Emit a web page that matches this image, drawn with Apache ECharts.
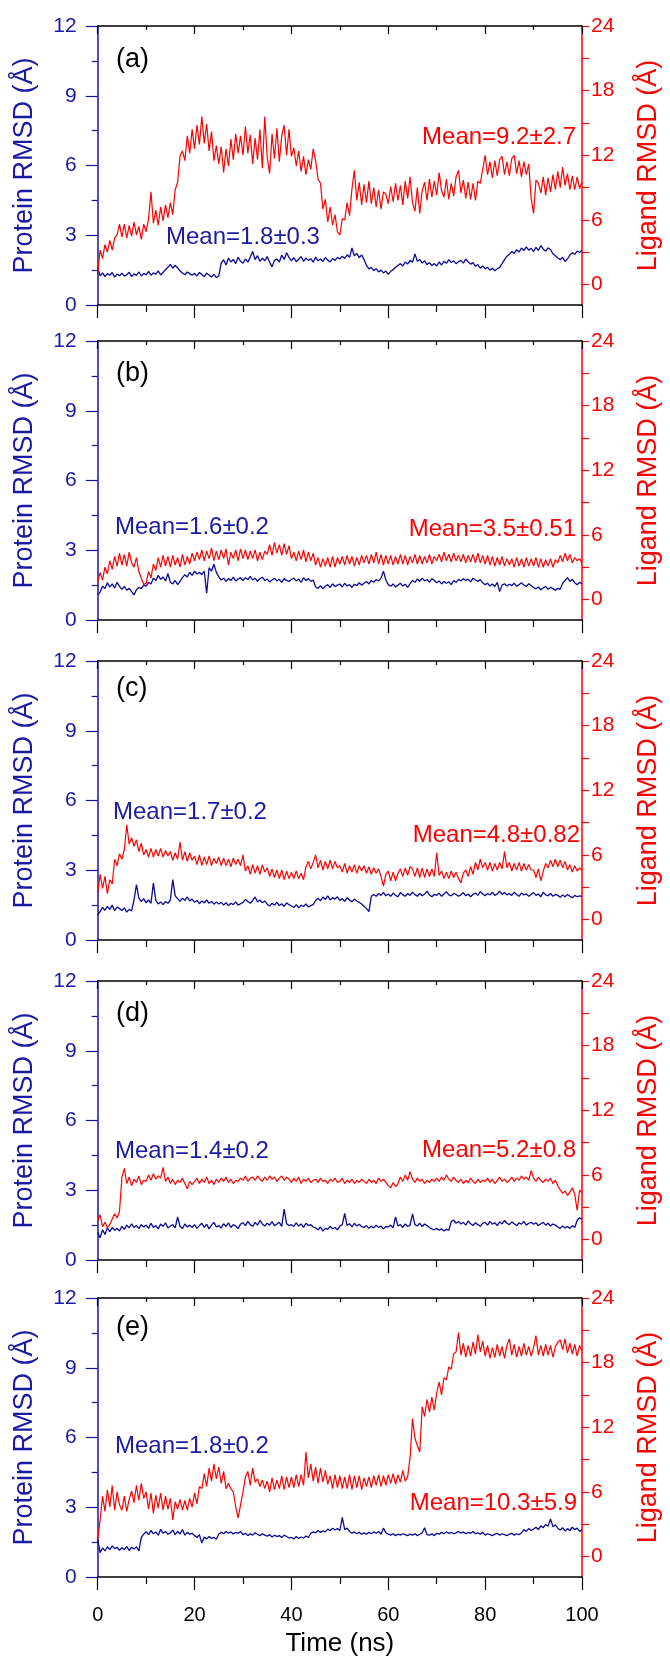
<!DOCTYPE html>
<html>
<head>
<meta charset="utf-8">
<script src="https://cdn.jsdelivr.net/npm/echarts@6/dist/echarts.min.js"></script>
<style>
  html, body { margin: 0; padding: 0; background: #ffffff; }
  #chart { width: 670px; height: 1659px; }
</style>
</head>
<body>
<div id="chart"></div>
<script>
// Sampling interval of the RMSD traces (ns); every trace runs 0–100 ns.
const timeStepNs = 0.5;

// Protein backbone RMSD (Å), systems (a)–(e)
const proteinA = [
  1.60,1.25,1.38,1.22,1.35,1.28,1.40,1.20,1.33,1.26,
  1.37,1.24,1.30,1.41,1.22,1.34,1.27,1.42,1.25,1.36,
  1.30,1.45,1.28,1.38,1.33,1.47,1.29,1.40,1.52,1.62,
  1.75,1.58,1.70,1.60,1.46,1.38,1.30,1.42,1.35,1.28,
  1.36,1.25,1.40,1.31,1.22,1.37,1.29,1.20,1.32,1.18,
  1.25,1.80,1.95,1.72,2.02,1.85,1.96,1.78,2.05,1.88,
  1.80,1.98,1.84,2.06,2.30,1.95,2.12,1.88,2.02,1.90,
  2.08,1.85,1.64,1.92,1.98,1.84,2.15,1.96,2.25,2.05,
  1.90,2.04,1.86,1.97,2.08,1.88,2.02,1.92,1.99,1.84,
  2.06,1.90,1.98,1.87,2.04,1.93,1.85,2.00,1.92,2.05,
  1.98,2.10,2.00,2.16,2.05,2.45,2.12,2.22,2.04,2.15,
  1.95,1.70,1.55,1.62,1.48,1.56,1.42,1.50,1.38,1.46,
  1.32,1.45,1.52,1.62,1.70,1.78,1.68,1.85,1.76,1.92,
  1.84,2.20,1.88,1.96,1.80,1.90,1.74,1.82,1.70,1.78,
  1.68,1.85,1.72,1.88,1.79,1.95,1.83,1.90,1.78,1.86,
  1.92,1.80,1.98,1.85,1.76,1.82,1.66,1.74,1.58,1.68,
  1.55,1.62,1.50,1.58,1.47,1.56,1.62,1.78,1.95,2.10,
  2.18,2.30,2.22,2.38,2.28,2.45,2.34,2.50,2.36,2.44,
  2.30,2.48,2.35,2.55,2.40,2.32,2.46,2.38,2.20,2.12,
  2.02,1.95,2.05,1.88,1.98,2.15,2.25,2.18,2.32,2.26,
  2.35
];
const proteinB = [
  1.08,1.20,1.45,1.35,1.60,1.42,1.55,1.38,1.62,1.45,
  1.32,1.44,1.28,1.36,1.22,1.08,1.30,1.40,1.35,1.50,
  1.45,1.62,1.55,1.80,1.70,1.92,1.75,1.85,1.68,2.00,
  1.62,1.55,1.70,1.52,1.66,1.82,1.95,1.85,2.05,1.92,
  2.10,1.98,2.05,1.95,2.10,1.15,2.25,2.10,2.40,2.05,
  1.85,1.72,1.80,1.66,1.78,1.70,1.84,1.68,1.76,1.82,
  1.70,1.82,1.74,1.88,1.72,1.80,1.66,1.78,1.84,1.70,
  1.76,1.64,1.72,1.80,1.68,1.75,1.62,1.78,1.70,1.66,
  1.74,1.80,1.68,1.76,1.62,1.82,1.70,1.78,1.66,1.72,
  1.42,1.36,1.48,1.34,1.45,1.52,1.40,1.56,1.44,1.50,
  1.55,1.42,1.58,1.46,1.52,1.40,1.54,1.48,1.60,1.50,
  1.58,1.66,1.55,1.70,1.62,1.74,1.68,1.80,2.10,1.72,
  1.52,1.45,1.55,1.42,1.50,1.58,1.46,1.54,1.40,1.56,
  1.70,1.62,1.76,1.66,1.80,1.68,1.74,1.62,1.78,1.70,
  1.60,1.68,1.55,1.66,1.58,1.64,1.52,1.70,1.62,1.75,
  1.68,1.78,1.70,1.76,1.64,1.80,1.72,1.66,1.74,1.60,
  1.52,1.58,1.46,1.55,1.44,1.62,1.22,1.50,1.56,1.46,
  1.54,1.48,1.58,1.45,1.52,1.60,1.50,1.44,1.56,1.48,
  1.40,1.34,1.42,1.30,1.38,1.44,1.32,1.40,1.35,1.28,
  1.36,1.32,1.58,1.70,1.82,1.66,1.75,1.60,1.52,1.62,
  1.55
];
const proteinC = [
  1.08,1.22,1.40,1.28,1.45,1.32,1.50,1.26,1.42,1.35,
  1.27,1.38,1.20,1.32,1.25,1.72,2.38,1.80,1.65,1.78,
  1.60,1.72,1.58,2.45,1.70,1.55,1.64,1.52,1.66,1.58,
  1.72,2.60,1.90,1.78,1.66,1.80,1.70,1.85,1.68,1.76,
  1.62,1.70,1.56,1.68,1.60,1.72,1.58,1.66,1.54,1.64,
  1.55,1.62,1.50,1.60,1.48,1.58,1.52,1.64,1.50,1.56,
  1.62,1.75,1.66,1.58,1.70,1.85,1.64,1.72,1.60,1.68,
  1.54,1.46,1.58,1.50,1.62,1.48,1.56,1.44,1.60,1.52,
  1.46,1.40,1.52,1.38,1.50,1.44,1.55,1.42,1.48,1.52,
  1.70,1.80,1.68,1.85,1.74,1.90,1.72,1.82,1.76,1.86,
  1.70,1.78,1.66,1.82,1.72,1.64,1.76,1.68,1.62,1.55,
  1.45,1.35,1.22,1.88,1.96,1.88,2.00,1.92,2.05,1.90,
  1.98,1.88,2.02,1.92,1.86,2.04,1.94,1.88,2.00,1.92,
  2.06,1.95,1.88,2.00,1.90,1.98,2.10,1.94,1.86,1.96,
  1.92,2.02,1.88,1.98,2.08,1.94,1.90,2.00,1.96,1.88,
  1.94,2.04,1.90,1.98,1.86,1.96,2.02,1.92,2.08,1.98,
  1.90,2.00,1.94,2.06,1.92,1.98,2.10,1.96,2.04,1.94,
  2.00,1.92,2.06,1.96,1.88,2.02,1.94,1.98,1.88,1.96,
  2.04,1.92,1.98,1.86,2.06,1.94,1.90,2.00,1.88,1.96,
  1.92,1.84,1.94,1.86,1.96,1.88,1.82,1.92,1.86,1.90,
  1.88
];
const proteinD = [
  1.20,0.95,1.30,1.10,1.38,1.22,1.40,1.28,1.36,1.25,
  1.45,1.32,1.50,1.38,1.55,1.40,1.48,1.35,1.52,1.42,
  1.50,1.36,1.58,1.40,1.48,1.34,1.55,1.44,1.60,1.38,
  1.46,1.52,1.38,1.85,1.44,1.36,1.55,1.42,1.50,1.40,
  1.52,1.36,1.48,1.58,1.40,1.54,1.34,1.50,1.62,1.42,
  1.48,1.38,1.56,1.44,1.60,1.40,1.52,1.46,1.35,1.55,
  1.60,1.48,1.66,1.52,1.45,1.62,1.50,1.70,1.55,1.46,
  1.58,1.50,1.65,1.48,1.55,1.62,1.45,2.19,1.56,1.48,
  1.52,1.44,1.60,1.46,1.55,1.40,1.58,1.48,1.52,1.42,
  1.38,1.30,1.42,1.24,1.36,1.32,1.45,1.34,1.40,1.30,
  1.46,1.52,2.00,1.48,1.56,1.42,1.58,1.46,1.54,1.44,
  1.40,1.48,1.36,1.45,1.38,1.50,1.40,1.46,1.34,1.44,
  1.42,1.50,1.38,1.85,1.46,1.52,1.40,1.55,1.44,1.50,
  1.98,1.52,1.46,1.58,1.44,1.55,1.48,1.40,1.34,1.30,
  1.36,1.28,1.34,1.25,1.32,1.28,1.65,1.72,1.58,1.66,
  1.55,1.62,1.50,1.68,1.56,1.48,1.60,1.52,1.45,1.58,
  1.62,1.50,1.66,1.54,1.60,1.48,1.64,1.55,1.70,1.58,
  1.52,1.64,1.56,1.48,1.60,1.54,1.66,1.50,1.58,1.62,
  1.54,1.60,1.48,1.56,1.62,1.50,1.58,1.46,1.55,1.50,
  1.42,1.36,1.46,1.38,1.44,1.35,1.48,1.40,1.70,1.82,
  1.75
];
const proteinE = [
  1.60,1.05,1.25,1.12,1.30,1.18,1.34,1.22,1.28,1.15,
  1.26,1.18,1.32,1.14,1.28,1.20,1.30,1.12,1.70,1.84,
  1.95,1.82,2.00,1.86,1.94,1.80,2.05,1.88,1.96,1.84,
  1.90,2.02,1.82,1.96,1.85,2.04,1.80,1.92,1.84,1.88,
  1.78,1.70,1.82,1.46,1.72,1.64,1.74,1.66,1.70,1.62,
  1.85,1.92,1.86,1.96,1.88,1.94,1.85,1.92,1.88,1.95,
  1.82,1.88,1.78,1.86,1.80,1.90,1.84,1.78,1.86,1.80,
  1.76,1.82,1.72,1.80,1.74,1.78,1.70,1.80,1.74,1.68,
  1.70,1.64,1.74,1.66,1.72,1.68,1.76,1.70,1.88,1.94,
  1.90,2.00,1.92,1.98,1.94,2.06,2.00,2.10,2.02,2.08,
  2.00,2.56,2.04,2.10,1.96,1.88,1.94,1.86,1.92,1.84,
  1.90,1.84,1.92,1.86,1.94,1.88,1.96,1.84,2.10,1.90,
  1.84,1.80,1.86,1.78,1.84,1.80,1.86,1.82,1.78,1.84,
  1.80,1.86,1.78,1.84,1.90,2.12,1.82,1.80,1.86,1.78,
  1.88,1.84,1.92,1.86,1.94,1.88,1.92,1.86,1.90,1.96,
  1.88,1.94,1.86,1.92,1.88,1.96,1.86,1.90,1.84,1.92,
  1.80,1.86,1.82,1.78,1.84,1.88,1.80,1.86,1.82,1.78,
  1.84,1.88,1.80,1.86,1.82,1.90,2.04,1.96,2.08,2.00,
  2.06,2.14,2.04,2.20,2.12,2.26,2.18,2.50,2.16,2.24,
  2.10,2.02,2.12,1.98,2.08,2.00,2.14,2.04,2.10,1.96,
  2.04
];

// Ligand heavy-atom RMSD (Å), systems (a)–(e)
const ligandA = [
  1.0,3.2,2.4,3.7,3.0,4.1,3.2,4.3,4.6,5.6,
  4.4,5.6,4.3,5.5,4.5,5.8,4.6,5.4,4.2,5.6,
  4.9,6.1,8.6,5.7,6.9,5.5,7.2,5.9,7.4,6.2,
  7.6,6.5,8.8,9.5,11.9,12.4,11.5,13.8,12.2,14.4,
  12.6,14.8,13.0,15.6,13.1,14.9,12.4,14.2,11.5,12.9,
  11.2,12.8,10.4,12.6,11.0,13.5,11.6,14.0,12.2,13.8,
  12.0,14.7,12.2,13.9,11.2,13.6,11.6,14.4,10.8,15.6,
  11.8,10.3,14.0,11.7,14.5,11.4,13.8,14.8,12.0,14.4,
  11.9,12.7,11.0,12.4,10.5,11.9,10.2,11.6,10.7,12.6,
  11.5,9.8,9.4,7.0,7.9,5.8,7.2,5.5,6.5,4.9,
  4.6,6.1,6.0,7.6,6.4,8.9,10.6,7.8,9.5,7.4,
  9.3,7.6,9.6,7.5,9.0,7.2,8.8,7.0,8.6,8.4,
  7.5,9.1,7.7,9.4,7.8,9.2,7.4,9.6,8.0,10.0,
  7.6,6.8,9.0,6.6,8.7,9.5,7.8,9.8,8.1,9.6,
  8.3,10.4,8.7,8.1,9.8,7.9,9.4,8.2,10.0,10.6,
  8.5,9.7,8.0,9.5,7.9,9.4,7.8,9.6,9.4,10.7,
  12.0,10.2,11.4,9.9,11.5,10.1,11.6,11.9,10.2,11.4,
  10.1,11.7,12.0,10.3,11.5,10.0,11.4,10.2,11.2,8.0,
  6.6,9.7,9.4,8.5,10.0,8.3,9.9,8.6,10.2,8.8,
  10.5,9.0,10.9,9.2,10.3,8.8,10.1,8.8,10.0,8.9,
  9.5
];
const ligandB = [
  1.6,2.5,1.8,3.0,2.4,3.6,2.8,4.0,3.1,4.3,
  3.2,4.2,3.1,4.4,3.4,3.0,3.9,2.6,2.0,1.4,
  1.5,2.6,2.0,3.3,2.7,3.9,3.0,4.1,3.1,4.0,
  3.0,4.1,3.2,3.9,3.0,4.2,3.2,4.0,3.3,4.3,
  3.6,4.4,3.7,4.6,3.6,4.5,3.8,4.8,3.6,4.5,
  3.7,4.6,3.8,4.7,3.2,4.4,3.8,4.6,3.6,4.7,
  3.8,4.6,3.7,4.5,3.8,4.6,3.6,4.4,3.7,4.5,
  4.2,5.1,4.1,5.3,4.3,5.1,4.1,5.2,4.2,5.0,
  3.8,4.4,3.6,4.5,3.7,4.6,3.5,4.4,3.6,4.3,
  3.2,3.9,3.0,3.8,3.1,3.9,3.0,4.0,3.0,3.9,
  3.3,4.0,3.2,4.1,3.3,4.0,3.1,3.9,3.2,4.1,
  3.4,4.1,3.3,4.2,3.4,4.4,3.3,4.2,3.2,4.1,
  3.3,4.1,3.2,4.0,3.3,4.2,3.3,4.1,3.2,4.0,
  3.4,4.2,3.3,4.1,3.3,4.0,3.4,4.2,3.3,4.0,
  3.6,4.2,3.5,4.4,3.6,4.2,3.5,4.3,3.6,4.1,
  3.5,4.2,3.4,4.1,3.5,4.2,3.4,4.3,3.4,4.1,
  3.3,4.1,3.2,4.0,3.1,3.9,3.2,4.0,3.1,3.8,
  3.2,3.8,3.0,3.9,3.1,3.8,3.0,3.9,3.1,3.8,
  3.1,3.9,3.0,3.8,3.0,3.7,3.1,3.8,3.0,3.7,
  3.4,4.1,3.5,4.3,3.6,4.2,3.4,3.9,3.6,3.8,
  3.4
];
const ligandC = [
  2.5,4.2,2.9,4.0,2.4,3.7,3.3,5.6,5.0,6.1,
  5.6,6.5,8.8,7.0,7.6,6.8,7.4,6.3,7.1,6.0,
  6.5,5.8,6.6,5.8,6.5,5.9,6.6,5.8,6.4,5.9,
  6.3,5.5,6.2,5.6,7.2,5.5,6.3,5.4,6.2,5.5,
  5.9,5.1,6.0,5.0,5.8,5.1,5.9,5.0,5.7,5.2,
  5.8,5.0,5.7,5.0,5.6,4.9,5.7,5.1,5.6,5.0,
  6.0,4.5,5.0,4.2,5.1,4.3,5.0,4.2,5.1,4.4,
  4.8,4.0,4.7,3.9,4.6,3.8,4.6,3.7,4.5,3.8,
  4.4,3.8,4.5,3.8,4.3,3.7,4.9,5.4,4.7,5.3,
  6.0,4.8,5.5,4.6,5.4,4.7,5.5,4.7,5.4,4.8,
  5.0,4.4,5.2,4.3,5.0,4.4,5.1,4.3,5.0,4.5,
  5.0,4.3,4.9,4.2,4.8,4.3,4.7,4.0,3.1,4.2,
  4.5,3.6,4.4,3.6,4.3,4.7,4.0,4.8,4.1,4.9,
  4.7,4.0,4.8,3.9,4.8,3.9,4.7,4.0,4.7,4.0,
  6.2,4.1,4.5,3.8,4.4,3.8,4.5,3.9,4.4,3.8,
  3.4,4.3,4.6,4.0,4.9,4.2,5.3,4.6,5.6,4.8,
  5.3,4.6,5.3,4.5,5.2,4.6,5.3,4.7,6.3,4.8,
  5.3,4.5,5.2,4.6,5.3,4.5,5.2,4.6,5.1,4.6,
  4.6,3.9,4.7,3.6,4.5,5.2,4.8,5.5,4.9,5.6,
  4.9,5.5,4.8,5.4,4.6,5.1,4.4,5.0,4.5,4.8,
  4.6
];
const ligandD = [
  1.7,2.3,1.2,1.6,1.1,1.4,1.9,2.4,2.0,2.6,
  5.8,6.6,5.2,5.8,5.0,5.6,5.3,5.9,5.1,5.5,
  5.4,6.0,5.5,6.1,5.6,5.9,5.7,6.7,5.4,5.8,
  5.2,5.6,5.1,5.5,5.3,5.7,5.2,4.7,5.4,5.1,
  5.4,5.7,5.2,5.6,5.3,5.8,5.2,5.5,5.1,5.6,
  5.3,5.7,5.4,5.8,5.3,5.6,5.2,5.5,5.4,5.7,
  5.5,5.9,5.4,5.7,5.8,5.5,5.9,5.6,5.4,5.8,
  5.5,5.9,5.6,5.8,5.4,5.7,5.9,5.5,5.8,5.6,
  5.3,5.7,5.4,5.8,5.2,5.6,5.4,5.7,5.3,5.5,
  5.6,5.3,5.7,5.4,5.5,5.2,5.6,5.4,5.7,5.3,
  5.4,5.7,5.2,5.5,5.3,5.6,5.2,5.5,5.3,5.6,
  5.4,5.2,5.6,5.3,5.5,5.2,5.7,5.4,5.6,5.3,
  5.0,4.8,5.3,4.9,5.2,5.8,5.4,6.0,5.5,6.3,
  5.6,5.3,5.7,5.4,5.6,5.2,5.5,5.3,5.6,5.4,
  5.7,5.4,5.8,5.5,6.0,5.6,5.4,5.8,5.5,5.3,
  5.6,5.2,5.5,5.3,5.7,5.4,5.2,5.6,5.3,5.5,
  5.4,5.7,5.3,5.6,5.2,5.5,5.8,5.4,5.6,5.3,
  5.5,5.8,5.4,5.7,5.5,5.9,5.6,5.8,5.5,6.4,
  5.7,5.4,5.8,5.5,5.3,5.6,5.4,5.7,5.2,5.5,
  5.0,4.6,4.3,4.5,4.1,4.4,4.8,4.2,2.7,4.6,
  4.3
];
const ligandE = [
  1.5,3.4,5.6,4.2,6.2,4.6,6.6,4.3,6.0,4.8,
  4.3,5.6,4.2,5.3,6.1,5.0,6.6,5.2,6.8,5.4,
  6.0,4.4,5.9,4.0,5.7,4.5,5.9,4.3,5.6,4.4,
  5.4,3.4,5.1,4.4,5.3,4.3,5.2,4.3,5.4,4.6,
  5.9,4.9,6.5,6.3,7.7,6.5,8.2,7.0,8.6,7.2,
  8.3,6.8,7.9,6.3,6.8,6.3,6.0,4.6,3.6,4.8,
  6.0,7.4,7.9,6.6,8.2,6.9,7.2,6.5,7.1,6.3,
  7.0,6.0,7.3,6.2,7.1,6.3,7.5,6.2,7.4,6.4,
  7.4,6.4,7.6,6.5,7.6,6.6,9.7,7.3,8.6,7.0,
  8.3,6.8,8.2,6.9,8.0,6.7,7.5,6.3,7.6,6.4,
  7.5,6.3,7.4,6.3,7.6,6.2,7.5,6.4,7.5,6.2,
  7.3,6.5,7.4,6.4,7.5,6.6,7.6,6.5,7.5,6.6,
  7.6,6.8,7.7,6.7,7.6,6.9,8.0,7.0,7.4,9.2,
  12.8,11.0,10.3,9.7,13.9,13.0,14.6,13.4,14.8,13.6,
  15.2,16.2,15.0,16.6,16.4,17.6,17.4,18.8,19.0,20.8,
  18.7,19.8,18.5,19.6,18.6,19.9,18.8,20.6,19.0,20.0,
  18.6,19.6,18.4,19.4,18.5,19.7,18.6,19.5,18.4,19.6,
  20.2,18.7,19.7,18.5,19.5,18.6,19.8,18.7,19.5,18.6,
  19.4,20.5,18.7,19.6,18.6,19.7,18.7,19.6,18.5,19.5,
  19.9,20.1,19.2,20.2,18.9,19.8,18.8,19.7,18.6,19.6,
  19.1
];

// Axis ticks
const timeTicks = [0, 20, 40, 60, 80, 100];
const proteinTicks = [0, 3, 6, 9, 12];
const ligandTicks = [0, 6, 12, 18, 24];
const ligandMinorTicks = [3, 9, 15, 21];

// Panel annotations
const panelLetters = ['(a)', '(b)', '(c)', '(d)', '(e)'];
const proteinMeans = ['Mean=1.8±0.3', 'Mean=1.6±0.2', 'Mean=1.7±0.2', 'Mean=1.4±0.2', 'Mean=1.8±0.2'];
const ligandMeans = ['Mean=9.2±2.7', 'Mean=3.5±0.51', 'Mean=4.8±0.82', 'Mean=5.2±0.8', 'Mean=10.3±5.9'];

const proteinSets = [proteinA, proteinB, proteinC, proteinD, proteinE];
const ligandSets = [ligandA, ligandB, ligandC, ligandD, ligandE];

// ---- layout & styling ----
const FONT = "'Liberation Sans', Arial, Helvetica, sans-serif";
const BLUE_LINE = '#0a0a98';
const BLUE_AXIS = '#1414a8';
const BLUE_TEXT = '#1a1aa2';
const RED = '#ff0000';
const panelTops = [26, 341, 661, 981, 1298];
const PANEL_H = 279;
const PLOT_LEFT = 97.7;
const PLOT_RIGHT = 670 - 588.2;
// label placement per panel: [letterY, proteinMeanX, proteinMeanY, ligandMeanRightX, ligandMeanY]
const annot = [
  [60, 166, 237, 576, 137.5],
  [374, 115, 527, 576, 529],
  [689, 113, 812, 580, 835],
  [1014, 115, 1151, 576, 1150],
  [1328, 115, 1446.5, 577, 1503]
];

const grids = [], xAxes = [], yAxes = [], series = [], graphics = [];
const toPairs = arr => arr.map((v, k) => [k * timeStepNs, v]);

for (let i = 0; i < 5; i++) {
  const last = i === 4;
  grids.push({ left: PLOT_LEFT, right: PLOT_RIGHT, top: panelTops[i], height: PANEL_H });

  // bottom time axis
  xAxes.push({
    type: 'value', gridIndex: i, position: 'bottom',
    min: timeTicks[0], max: timeTicks[timeTicks.length - 1], interval: timeTicks[1] - timeTicks[0],
    axisLine: { show: true, onZero: false, lineStyle: { color: '#000', width: 1.5 } },
    axisTick: { show: true, inside: false, length: 13, lineStyle: { color: '#000', width: 1.2 } },
    minorTick: { show: true, splitNumber: 2, length: 7, lineStyle: { color: '#000', width: 1.2 } },
    splitLine: { show: false }, minorSplitLine: { show: false },
    axisLabel: { show: last, margin: 28, fontSize: 20, color: '#000', fontFamily: FONT },
    name: last ? 'Time (ns)' : '', nameLocation: 'middle', nameGap: 54,
    nameTextStyle: { fontSize: 26, color: '#000', fontFamily: FONT }
  });
  // top frame axis
  xAxes.push({
    type: 'value', gridIndex: i, position: 'top',
    min: timeTicks[0], max: timeTicks[timeTicks.length - 1], interval: timeTicks[1] - timeTicks[0],
    axisLine: { show: true, onZero: false, lineStyle: { color: '#000', width: 1.5 } },
    axisTick: { show: true, inside: true, length: 8, lineStyle: { color: '#000', width: 1.2 } },
    minorTick: { show: true, splitNumber: 2, length: 4, lineStyle: { color: '#000', width: 1.2 } },
    splitLine: { show: false }, minorSplitLine: { show: false },
    axisLabel: { show: false }
  });

  // left: protein RMSD
  yAxes.push({
    type: 'value', gridIndex: i, position: 'left',
    min: proteinTicks[0], max: proteinTicks[proteinTicks.length - 1], interval: proteinTicks[1] - proteinTicks[0],
    axisLine: { show: true, onZero: false, lineStyle: { color: BLUE_AXIS, width: 1.5 } },
    axisTick: { show: true, inside: false, length: 12, lineStyle: { color: BLUE_AXIS, width: 1.2 } },
    minorTick: { show: true, splitNumber: 2, length: 6, lineStyle: { color: BLUE_AXIS, width: 1.2 } },
    splitLine: { show: false }, minorSplitLine: { show: false },
    axisLabel: { margin: 21, fontSize: 21, color: BLUE_TEXT, fontFamily: FONT },
    name: 'Protein RMSD (Å)', nameLocation: 'middle', nameGap: 60, nameRotate: 90,
    nameTextStyle: { fontSize: 27, color: BLUE_TEXT, fontFamily: FONT }
  });
  // right: ligand RMSD (axis starts a little below zero)
  yAxes.push({
    type: 'value', gridIndex: i, position: 'right', min: -1.9, max: 24,
    axisLine: { show: true, onZero: false, lineStyle: { color: RED, width: 1.5 } },
    axisTick: { show: true, inside: false, length: 7, customValues: ligandTicks.concat(ligandMinorTicks),
                lineStyle: { color: RED, width: 1.2 } },
    splitLine: { show: false },
    axisLabel: { margin: 9, fontSize: 21, color: RED, fontFamily: FONT, customValues: ligandTicks },
    name: 'Ligand RMSD (Å)', nameLocation: 'middle', nameGap: 53, nameRotate: 90,
    nameTextStyle: { fontSize: 27, color: RED, fontFamily: FONT }
  });

  series.push({
    type: 'line', xAxisIndex: 2 * i, yAxisIndex: 2 * i, data: toPairs(proteinSets[i]),
    showSymbol: false, symbol: 'none', lineStyle: { color: BLUE_LINE, width: 1.3 }, z: 2
  });
  series.push({
    type: 'line', xAxisIndex: 2 * i, yAxisIndex: 2 * i + 1, data: toPairs(ligandSets[i]),
    showSymbol: false, symbol: 'none', lineStyle: { color: RED, width: 1.2 }, z: 3
  });

  const [ly, pmx, pmy, lmx, lmy] = annot[i];
  graphics.push({
    type: 'text', x: 116, y: ly, z: 10,
    style: { text: panelLetters[i], fill: '#000', fontSize: 27, fontFamily: FONT, align: 'left', verticalAlign: 'middle' }
  });
  graphics.push({
    type: 'text', x: pmx, y: pmy, z: 10,
    style: { text: proteinMeans[i], fill: BLUE_TEXT, fontSize: 24, fontFamily: FONT, align: 'left', verticalAlign: 'middle' }
  });
  graphics.push({
    type: 'text', x: lmx, y: lmy, z: 10,
    style: { text: ligandMeans[i], fill: RED, fontSize: 24, fontFamily: FONT, align: 'right', verticalAlign: 'middle' }
  });
}

const chart = echarts.init(document.getElementById('chart'), null, { renderer: 'canvas' });
chart.setOption({
  animation: false,
  backgroundColor: '#ffffff',
  grid: grids,
  xAxis: xAxes,
  yAxis: yAxes,
  series: series,
  graphic: graphics
});
</script>
</body>
</html>
